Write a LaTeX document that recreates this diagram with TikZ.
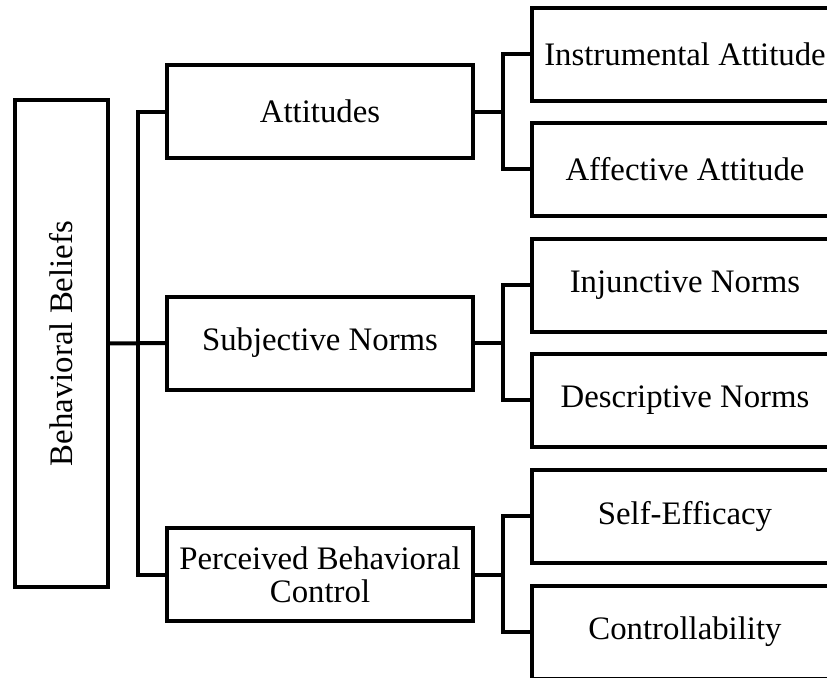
\documentclass[tikz,border=0pt]{standalone}
\usepackage{fontspec}
\setmainfont{Liberation Serif}
\usetikzlibrary{positioning}
\tikzset{every node/.append style={font=\fontsize{16.4}{16.5}\selectfont}}
\tikzset{box/.style={draw, line width=2pt, inner sep=0pt, outer sep=0pt, align=center,
    minimum width=153pt, minimum height=46.5pt}}
\tikzset{link/.style={line width=2pt}}

\begin{document}
\begin{tikzpicture}[x=0.5pt,y=-0.5pt]
  \useasboundingbox (0,0) rectangle (827,677);
  \clip (0,0) rectangle (827,677);

  \node[box, rotate=90, minimum width=243.5pt, minimum height=46.5pt] (beliefs) at (61.5,343.5) {Behavioral Beliefs};

  \node[box] (att)  at (320,111.5) {Attitudes};
  \node[box] (subj) at (320,343) {Subjective Norms};
  \node[box] (pbc)  at (320,574.5) {Perceived Behavioral\\Control};

  \node[box] (instr) at (685,54)  {Instrumental Attitude};
  \node[box] (affec) at (685,169) {Affective Attitude};
  \node[box] (injun) at (685,285) {Injunctive Norms};
  \node[box] (descr) at (685,400) {Descriptive Norms};
  \node[box] (selfe) at (685,516) {Self-Efficacy};
  \node[box] (contr) at (685,632) {Controllability};

  % root to the middle column
  \draw[link] (beliefs.south) -- (subj.west);
  \draw[link] (att.west) -- ++(-29,0) |- (pbc.west);

  % middle column to the right column
  \draw[link] (att.east) -- ++(30,0);
  \draw[link] (subj.east) -- ++(30,0);
  \draw[link] (pbc.east) -- ++(30,0);
  \draw[link] (instr.west) -- ++(-29,0) |- (affec.west);
  \draw[link] (injun.west) -- ++(-29,0) |- (descr.west);
  \draw[link] (selfe.west) -- ++(-29,0) |- (contr.west);
\end{tikzpicture}
\end{document}
